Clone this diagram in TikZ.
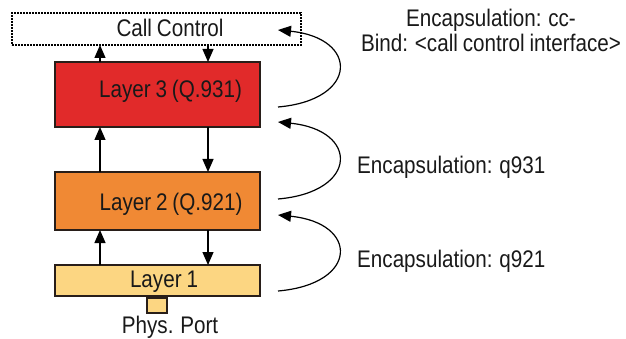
\documentclass[tikz,border=0pt]{standalone}
\usepackage{fontspec}
\setmainfont{Liberation Sans}[FakeStretch=0.86,WordSpace=0.85]
\usetikzlibrary{arrows.meta}
\definecolor{lthree}{RGB}{225,42,42}
\definecolor{ltwo}{RGB}{240,137,52}
\definecolor{lone}{RGB}{252,214,130}
\definecolor{bord}{RGB}{40,30,25}
\tikzset{
  layerbox/.style={draw=bord, line width=1.2pt, rectangle, inner sep=0pt, outer sep=0pt, anchor=north west},
  txt/.style={inner sep=0pt, anchor=base, font=\fontsize{24}{25.5}\selectfont, text=black!90},
  arr/.style={line width=1.2pt, -{Triangle[length=13pt,width=11pt]}},
  loop/.style={line width=1.2pt, -{Triangle[length=13pt,width=11pt]}},
}
\begin{document}
\begin{tikzpicture}[x=1pt,y=-1pt]
\useasboundingbox (0,0) rectangle (626,339);
% columns for vertical arrows
\coordinate (cl) at (100,0);
\coordinate (cr) at (208,0);
% boxes
\node[layerbox, draw=black, line width=1.3pt, dash pattern=on 1.6pt off 1.4pt, minimum width=289pt, minimum height=32pt] (CC) at (12,13) {};
\node[layerbox, fill=lthree, minimum width=205pt, minimum height=65pt] (L3) at (55,62) {};
\node[layerbox, fill=ltwo, minimum width=205pt, minimum height=58pt] (L2) at (55,172) {};
\node[layerbox, fill=lone, minimum width=205pt, minimum height=31pt] (L1) at (55,265) {};
\node[layerbox, fill=lone, minimum width=20pt, minimum height=15pt] (PP) at (147,298) {};
% texts
\node[txt] (tcc) at (170,37) {Call Control};
\node[txt] (t3) at (170.5,98) {Layer 3 (Q.931)};
\node[txt] (t2) at (171,211) {Layer 2 (Q.921)};
\node[txt] (t1) at (164,287) {Layer 1};
\node[txt] (tpp) at (170,333) {Phys. Port};
\node[txt, align=center] (e1) at (491,52) {Encapsulation: cc-\\Bind: <call control interface>};
\node[txt, anchor=base west] (e2) at (357,174) {Encapsulation: q931};
\node[txt, anchor=base west] (e3) at (357,267) {Encapsulation: q921};
% vertical arrows
\draw[arr] (L3.north -| cl) -- (CC.south -| cl);
\draw[arr] (CC.south -| cr) -- (L3.north -| cr);
\draw[arr] (L2.north -| cl) -- (L3.south -| cl);
\draw[arr] (L3.south -| cr) -- (L2.north -| cr);
\draw[arr] (L1.north -| cl) -- (L2.south -| cl);
\draw[arr] (L2.south -| cr) -- (L1.north -| cr);
% loop arrows
\coordinate (a1s) at (278,107);
\coordinate (a1e) at (278,30);
\coordinate (a2s) at (278,199);
\coordinate (a2e) at (278,122);
\coordinate (a3s) at (278,291);
\coordinate (a3e) at (278,215);
\draw[loop] (a1s) .. controls (359,100) and (359,38) .. (a1e);
\draw[loop] (a2s) .. controls (359,192) and (359,130) .. (a2e);
\draw[loop] (a3s) .. controls (359,284) and (359,223) .. (a3e);
\end{tikzpicture}
\end{document}
